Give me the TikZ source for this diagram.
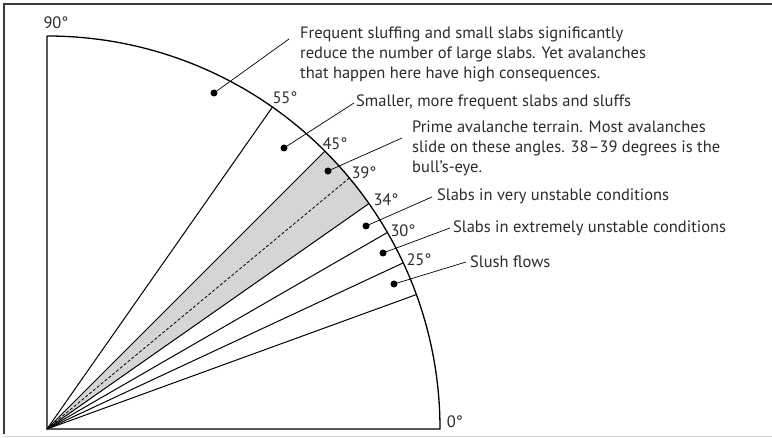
\documentclass[tikz,border=0pt]{standalone}
\usepackage{fontspec}
\setmainfont{PT Sans}
\usepackage{tikz}
\usetikzlibrary{positioning}
\definecolor{avtext}{HTML}{2B2B2B}
\definecolor{avshade}{HTML}{D5D5D7}
\definecolor{avframe}{HTML}{3A3A3A}
\definecolor{avrule}{HTML}{D0D0D0}

\begin{document}
\begin{tikzpicture}[
  x=1pt, y=1pt,
  every node/.style={font=\fontsize{16.5pt}{19.8pt}\selectfont, text=avtext},
  ray/.style={line width=1pt},
  rim/.style={line width=1.3pt},
  dot/.style={circle, fill=black, inner sep=0pt, minimum size=7pt},
  lead/.style={line width=0.7pt},
  deg/.style={inner sep=0pt},
  note/.style={inner sep=0pt, align=left},
]
\def\R{393}
\useasboundingbox (-47,-8) rectangle (725,429);

% -- Frame --------------------------------------
\draw[avframe, line width=1.6pt] (-43,-5) -- (-43,425) -- (725,425);
\draw[avrule, line width=1pt] (-43,-7) -- (725,-7);

% -- Prime band ---------------------------------
\fill[avshade] (0,0) -- (35:\R) arc (35:45:\R) -- cycle;
\draw[line width=0.8pt, dash pattern=on 3pt off 2pt] (0,0) -- (39.7:\R);

% -- Rays and rim -------------------------------
\foreach \a in {55,45,35,30,25,20}
  \draw[ray] (0,0) -- (\a:\R);
\draw[rim] (0,\R) -- (0,0) -- (\R,0) arc (0:90:\R);

% -- Angle labels -------------------------------
\node[deg] (a90) at (9,406)   {90°};
\node[deg] (a55) at (238,331) {55°};
\node[deg] (a45) at (288,285) {45°};
\node[deg] (a39) at (317,256) {39°};
\node[deg] (a34) at (339,229) {34°};
\node[deg] (a30) at (356,198) {30°};
\node[deg] (a25) at (372,169) {25°};
\node[deg] (a0)  at (408,7)   {0°};

% -- Zone dots ----------------------------------
\node[dot] (d1) at (167,336) {};
\node[dot] (d2) at (237,281) {};
\node[dot] (d3) at (281,258) {};
\node[dot] (d4) at (319,203) {};
\node[dot] (d5) at (336,176) {};
\node[dot] (d6) at (347,145) {};

% -- Notes --------------------------------------
\node[note, anchor=north west] (t1) at (253,402)
  {Frequent sluffing and small slabs significantly\\
   reduce the number of large slabs. Yet avalanches\\
   that happen here have high consequences.};
\node[note, anchor=west] (t2) at (309,327) {Smaller, more frequent slabs and sluffs};
\node[note, anchor=north west] (t3) at (365,308)
  {Prime avalanche terrain. Most avalanches\\
   slide on these angles. 38–39 degrees is the\\
   bull’s-eye.};
\node[note, anchor=west] (t4) at (390,233) {Slabs in very unstable conditions};
\node[note, anchor=west] (t5) at (406,201) {Slabs in extremely unstable conditions};
\node[note, anchor=west] (t6) at (423,167) {Slush flows};

% -- Leader ends --------------------------------
\coordinate (l1) at (242,390);
\coordinate (l2) at (307,326);
\coordinate (l3) at (355,291);
\coordinate (l4) at (385,232);
\coordinate (l5) at (403,201);
\coordinate (l6) at (419,167);

% -- Leaders ------------------------------------
\foreach \i in {1,...,6}
  \draw[lead] (d\i.center) -- (l\i);

\end{tikzpicture}
\end{document}
